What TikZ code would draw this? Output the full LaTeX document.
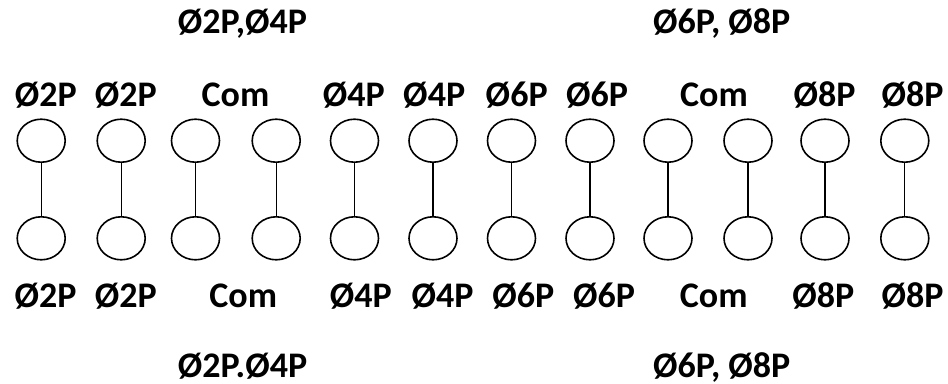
\documentclass[tikz,border=0pt]{standalone}
\usepackage{fontspec}
\setmainfont{Carlito}
\usetikzlibrary{shapes.geometric}
\begin{document}
\begin{tikzpicture}[x=1pt,y=-1pt,
  term/.style={draw,ellipse,line width=1.6pt,minimum width=48pt,minimum height=43pt,inner sep=0pt},
  link/.style={line width=1.2pt},
  lab/.style={anchor=base,inner sep=0pt,font=\fontsize{36}{40}\selectfont\bfseries}]
\useasboundingbox (0,0) rectangle (948,383);
% titles
\node[lab] (t1) at (242.5,33.5) {Ø2P,Ø4P};
\node[lab] (t2) at (721.7,33.5) {Ø6P, Ø8P};
\node[lab] (t3) at (242.5,377) {Ø2P.Ø4P};
\node[lab] (t4) at (721.7,377) {Ø6P, Ø8P};
% top labels
\node[lab] (la1) at (45.8,106) {Ø2P};
\node[lab] (la2) at (125.8,106) {Ø2P};
\node[lab] (la3) at (235.5,106) {Com};
\node[lab] (la4) at (353.8,106) {Ø4P};
\node[lab] (la5) at (434.2,106) {Ø4P};
\node[lab] (la6) at (516.7,106) {Ø6P};
\node[lab] (la7) at (597,106) {Ø6P};
\node[lab] (la8) at (714,106) {Com};
\node[lab] (la9) at (824.5,106) {Ø8P};
\node[lab] (la10) at (912.5,106) {Ø8P};
% bottom labels
\node[lab] (lb1) at (45.5,307.3) {Ø2P};
\node[lab] (lb2) at (125.8,307.3) {Ø2P};
\node[lab] (lb3) at (243.3,307.3) {Com};
\node[lab] (lb4) at (360.8,307.3) {Ø4P};
\node[lab] (lb5) at (442.5,307.3) {Ø4P};
\node[lab] (lb6) at (523.3,307.3) {Ø6P};
\node[lab] (lb7) at (604,307.3) {Ø6P};
\node[lab] (lb8) at (713.7,307.3) {Com};
\node[lab] (lb9) at (823.3,307.3) {Ø8P};
\node[lab] (lb10) at (912.5,307.3) {Ø8P};
% terminals
\foreach \i/\x in {1/41.2,2/121.2,3/195.5,4/276.2,5/354.5,6/433,7/511.5,8/590,9/668,10/748,11/825,12/904.8}{
  \node[term] (u\i) at (\x,140.7) {};
  \node[term] (d\i) at (\x,238.3) {};
  \draw[link] (u\i.south) -- (d\i.north);
}
\end{tikzpicture}
\end{document}
